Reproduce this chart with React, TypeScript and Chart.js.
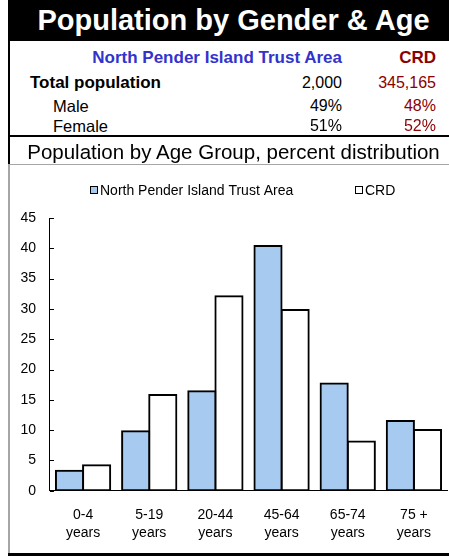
import React, { useEffect, useRef } from "react";
import { Chart, registerables } from "chart.js";

Chart.register(...registerables);

const FONT = "'Liberation Sans', Arial, Helvetica, sans-serif";

const title = "Population by Gender & Age";
const subtitle = "Population by Age Group, percent distribution";
const seriesNames = ["North Pender Island Trust Area", "CRD"];
const statLabels = ["Total population", "Male", "Female"];
const npStats = ["2,000", "49%", "51%"];
const crdStats = ["345,165", "48%", "52%"];

const categories = [
  ["0-4", "years"],
  ["5-19", "years"],
  ["20-44", "years"],
  ["45-64", "years"],
  ["65-74", "years"],
  ["75 +", "years"],
];
const npValues = [3.3, 9.8, 16.4, 40.4, 17.7, 11.5];
const crdValues = [4.2, 15.8, 32.1, 29.8, 8.1, 10.0];
const yMax = 45;
const yStep = 5;

const BLUE_TEXT = "#3333CC";
const RED_TEXT = "#8B0000";
const BAR_BLUE = "#A6CAF0";

const CANVAS_LEFT = 2;
const CANVAS_TOP = 165;
const CANVAS_W = 447;
const CANVAS_H = 392;

// legend item anchors (canvas px)
const legendX = [88, 353];
const legendY = 25;

const innerTicks = {
  id: "innerTicks",
  afterDraw(chart: any) {
    const y = chart.scales.y;
    const ctx = chart.ctx;
    ctx.save();
    ctx.strokeStyle = "#000";
    ctx.lineWidth = 1;
    y.ticks.forEach((t: any) => {
      const py = Math.round(y.getPixelForValue(t.value)) + 0.5;
      ctx.beginPath();
      ctx.moveTo(y.right, py);
      ctx.lineTo(y.right + 4, py);
      ctx.stroke();
    });
    ctx.restore();
  },
};

const customLegend = {
  id: "customLegend",
  afterDraw(chart: any) {
    const ctx = chart.ctx;
    ctx.save();
    ctx.font = `14px ${FONT}`;
    ctx.textBaseline = "middle";
    ctx.textAlign = "left";
    chart.data.datasets.forEach((ds: any, i: number) => {
      const x = legendX[i];
      ctx.fillStyle = ds.backgroundColor;
      ctx.fillRect(x, legendY - 4, 8, 8);
      ctx.strokeStyle = "#000";
      ctx.lineWidth = 1;
      ctx.strokeRect(x + 0.5, legendY - 3.5, 7, 7);
      ctx.fillStyle = "#000";
      ctx.fillText(ds.label, x + 10, legendY + 1);
    });
    ctx.restore();
  },
};

function BarChart() {
  const ref = useRef<HTMLCanvasElement | null>(null);
  useEffect(() => {
    if (!ref.current) return;
    Chart.defaults.font.family = FONT;
    const chart = new Chart(ref.current, {
      type: "bar",
      data: {
        labels: categories,
        datasets: [
          {
            label: seriesNames[0],
            data: npValues,
            backgroundColor: BAR_BLUE,
            borderColor: "#000000",
            borderWidth: 2,
            borderSkipped: false,
            inflateAmount: 1,
          },
          {
            label: seriesNames[1],
            data: crdValues,
            backgroundColor: "#FFFFFF",
            borderColor: "#000000",
            borderWidth: 2,
            borderSkipped: false,
            inflateAmount: 1,
          },
        ],
      },
      options: {
        responsive: false,
        animation: false,
        events: [],
        layout: { padding: { left: 4.4, right: 2, top: 53, bottom: 0.3 } },
        datasets: { bar: { categoryPercentage: 0.82, barPercentage: 1.0 } },
        plugins: {
          legend: { display: false },
          tooltip: { enabled: false },
        },
        scales: {
          x: {
            grid: { display: false, drawTicks: false },
            border: { display: true, color: "#000", width: 1 },
            ticks: {
              color: "#000",
              padding: 15,
              maxRotation: 0,
              autoSkip: false,
              font: { size: 14, family: FONT, lineHeight: 1.2857 },
            },
          },
          y: {
            min: 0,
            max: yMax,
            grid: { display: true, drawOnChartArea: false, drawTicks: false },
            border: { display: true, color: "#000", width: 1 },
            ticks: {
              stepSize: yStep,
              color: "#000",
              padding: 14,
              font: { size: 14, family: FONT },
            },
          },
        },
      },
      plugins: [innerTicks, customLegend],
    });
    return () => chart.destroy();
  }, []);
  return (
    <canvas
      ref={ref}
      width={CANVAS_W}
      height={CANVAS_H}
      style={{ position: "absolute", left: CANVAS_LEFT, top: CANVAS_TOP, width: CANVAS_W, height: CANVAS_H, display: "block" }}
    />
  );
}

export default function App() {
  const abs = (s: React.CSSProperties): React.CSSProperties => ({ position: "absolute", ...s });
  const rowTops = [73, 96, 116];
  return (
    <div
      style={{
        position: "fixed",
        left: 0,
        top: 0,
        width: 449,
        height: 556,
        background: "#fff",
        fontFamily: FONT,
        overflow: "hidden",
      }}
    >
      <BarChart />
      <div style={abs({ left: 0, top: 0, width: 8, height: 556, background: "#fff" })} />
      <div style={abs({ left: 8, top: 0, width: 441, height: 41, background: "#000" })} />
      <div
        style={abs({
          left: 18,
          top: 0,
          width: 431,
          height: 41,
          lineHeight: "41px",
          color: "#fff",
          fontWeight: "bold",
          fontSize: 29,
          textAlign: "center",
          whiteSpace: "nowrap",
        })}
      >
        {title}
      </div>
      <div style={abs({ left: 8, top: 0, width: 2, height: 164, background: "#000" })} />
      <div style={abs({ left: 8, top: 164, width: 2, height: 389, background: "#A6A6A6" })} />

      <div
        style={abs({ right: 449 - 342, top: 48, fontSize: 17, fontWeight: "bold", color: BLUE_TEXT, whiteSpace: "nowrap", lineHeight: "20px" })}
      >
        {seriesNames[0]}
      </div>
      <div
        style={abs({ right: 449 - 436, top: 48, fontSize: 17, fontWeight: "bold", color: RED_TEXT, whiteSpace: "nowrap", lineHeight: "20px" })}
      >
        {seriesNames[1]}
      </div>
      {statLabels.map((lab, i) => (
        <React.Fragment key={lab}>
          <div
            style={abs({
              left: i === 0 ? 30 : 53,
              top: rowTops[i],
              fontSize: i === 0 ? 17 : 16.5,
              fontWeight: i === 0 ? "bold" : "normal",
              color: "#000",
              whiteSpace: "nowrap",
              lineHeight: "20px",
            })}
          >
            {lab}
          </div>
          <div style={abs({ right: 449 - 342, top: rowTops[i], fontSize: 16, color: "#000", lineHeight: "20px" })}>
            {npStats[i]}
          </div>
          <div style={abs({ right: 449 - 436, top: rowTops[i], fontSize: 16, color: RED_TEXT, lineHeight: "20px" })}>
            {crdStats[i]}
          </div>
        </React.Fragment>
      ))}
      <div style={abs({ left: 8, top: 135, width: 441, height: 2, background: "#000" })} />
      <div
        style={abs({
          left: 18,
          top: 140,
          width: 431,
          height: 24,
          lineHeight: "24px",
          fontSize: 20.5,
          color: "#000",
          textAlign: "center",
          whiteSpace: "nowrap",
        })}
      >
        {subtitle}
      </div>
      <div style={abs({ left: 8, top: 164, width: 441, height: 1, background: "#A6A6A6" })} />
      <div style={abs({ left: 8, top: 553, width: 441, height: 3, background: "#000" })} />
    </div>
  );
}
